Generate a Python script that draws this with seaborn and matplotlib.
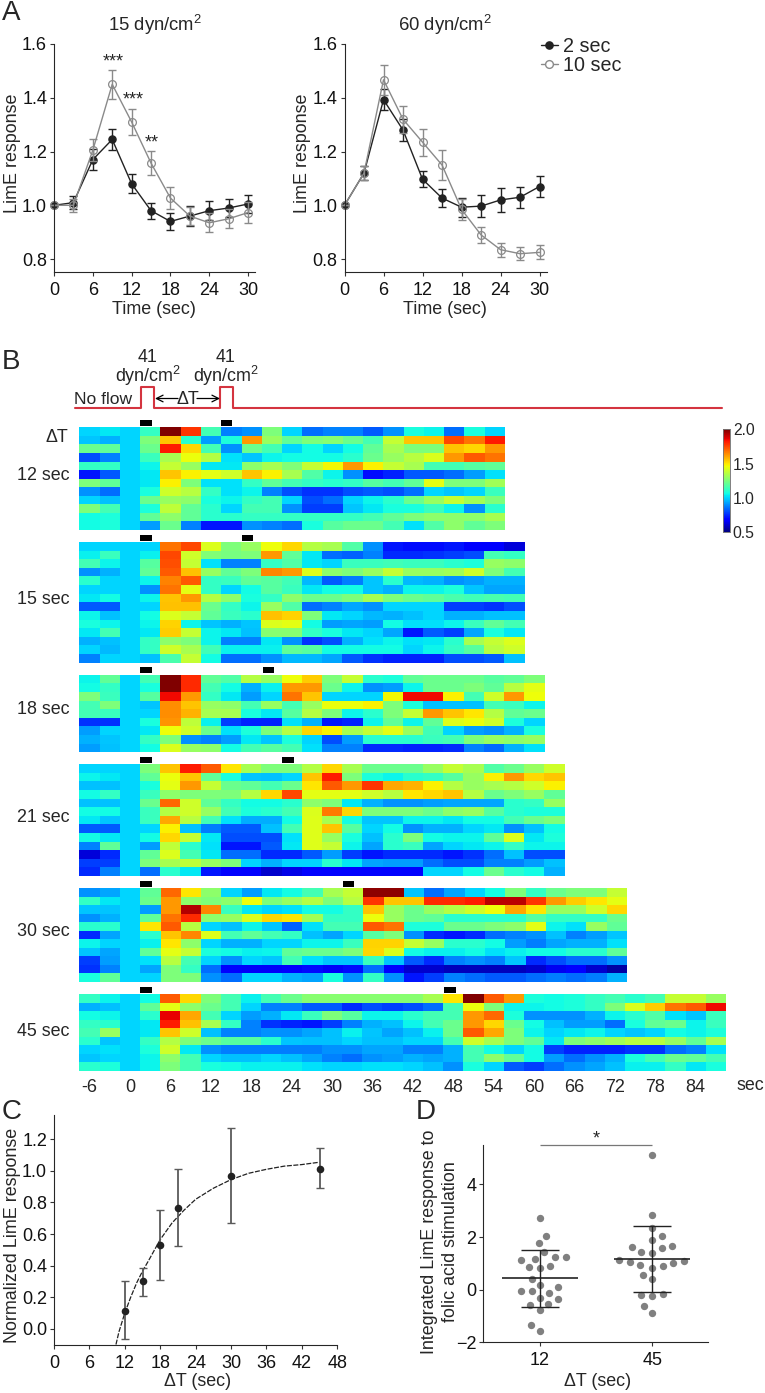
import numpy as np
import pandas as pd
import matplotlib
matplotlib.use('Agg')
import matplotlib.pyplot as plt
import seaborn as sns

W, H = 765, 1393

# Panel A
time_a = [0, 3, 6, 9, 12, 15, 18, 21, 24, 27, 30]
a15_2s = [1.0, 1.01, 1.17, 1.245, 1.08, 0.98, 0.94, 0.96, 0.98, 0.99, 1.005]
a15_2s_err = [0.0, 0.025, 0.04, 0.04, 0.035, 0.03, 0.032, 0.038, 0.035, 0.032, 0.035]
a15_10s = [1.0, 1.0, 1.205, 1.45, 1.31, 1.157, 1.027, 0.96, 0.935, 0.95, 0.973]
a15_10s_err = [0.0, 0.025, 0.04, 0.055, 0.05, 0.045, 0.04, 0.035, 0.035, 0.035, 0.04]
a60_2s = [1.0, 1.12, 1.393, 1.28, 1.097, 1.027, 0.993, 0.997, 1.02, 1.03, 1.07]
a60_2s_err = [0.0, 0.025, 0.04, 0.04, 0.03, 0.032, 0.035, 0.04, 0.043, 0.04, 0.038]
a60_10s = [1.0, 1.12, 1.467, 1.32, 1.235, 1.15, 0.985, 0.89, 0.835, 0.82, 0.825]
a60_10s_err = [0.0, 0.025, 0.055, 0.05, 0.05, 0.055, 0.04, 0.03, 0.026, 0.025, 0.026]

# Panel B, one matrix per delta T
hm_12 = [
    [1.0, 1.03, 1.0, 1.12, 2.0, 1.78, 1.15, 0.88, 0.9, 1.25, 1.0, 0.85, 0.88, 0.88, 0.82, 0.9, 1.07, 1.05, 0.85, 1.07, 1.0],
    [0.98, 0.95, 1.0, 1.25, 1.55, 1.1, 0.92, 1.08, 1.62, 1.3, 1.2, 1.25, 1.27, 1.22, 1.15, 1.38, 1.55, 1.55, 1.75, 1.68, 1.82],
    [1.22, 1.2, 1.0, 1.22, 1.82, 1.52, 1.15, 0.9, 1.22, 1.15, 1.0, 1.06, 1.0, 1.06, 1.2, 1.33, 1.25, 1.25, 1.55, 1.52, 1.62],
    [0.8, 0.88, 1.0, 1.13, 1.33, 1.45, 1.35, 1.02, 0.98, 1.05, 1.06, 1.06, 1.06, 1.1, 1.22, 1.3, 1.36, 1.42, 1.62, 1.72, 1.68],
    [1.12, 1.12, 1.0, 1.05, 1.38, 1.3, 1.03, 1.03, 1.28, 1.33, 1.26, 1.38, 1.47, 1.62, 1.48, 1.38, 1.33, 1.15, 1.15, 1.18, 1.2],
    [0.72, 0.82, 1.0, 1.03, 1.55, 1.48, 1.44, 1.4, 1.55, 1.48, 1.33, 1.17, 1.05, 0.9, 0.7, 0.74, 0.82, 0.82, 0.85, 0.92, 1.02],
    [1.25, 1.2, 1.0, 1.03, 1.48, 1.25, 1.02, 1.02, 1.12, 1.2, 1.15, 1.12, 1.1, 1.12, 1.18, 1.15, 1.2, 1.44, 1.25, 1.25, 1.32],
    [0.9, 0.85, 1.0, 1.07, 1.4, 1.36, 1.12, 1.02, 1.05, 0.88, 0.8, 0.76, 0.76, 0.8, 0.82, 0.8, 0.85, 1.0, 0.98, 1.0, 1.13],
    [1.0, 0.97, 1.0, 1.22, 1.3, 1.28, 1.07, 1.05, 1.12, 1.15, 1.0, 0.8, 0.85, 1.0, 1.05, 1.1, 1.22, 1.3, 1.38, 1.32, 1.25],
    [1.25, 1.15, 1.0, 1.08, 1.37, 1.2, 1.1, 1.0, 1.15, 1.15, 0.9, 0.78, 0.78, 0.98, 1.03, 1.07, 1.07, 1.13, 1.05, 0.9, 1.1],
    [1.06, 1.08, 1.0, 1.2, 1.28, 1.2, 1.1, 1.1, 1.12, 1.12, 1.12, 1.12, 1.12, 1.12, 1.15, 1.2, 1.25, 1.28, 1.28, 1.28, 1.33],
    [1.06, 1.08, 1.0, 0.92, 1.22, 0.88, 0.72, 0.72, 0.9, 0.88, 0.85, 1.07, 1.18, 1.22, 1.22, 1.15, 1.02, 1.17, 1.28, 1.2, 1.25],
]
hm_15 = [
    [1.0, 1.0, 1.0, 1.0, 1.68, 1.75, 1.42, 1.25, 1.3, 1.46, 1.52, 1.35, 1.33, 1.17, 0.9, 0.72, 0.7, 0.7, 0.72, 0.68, 0.68, 0.62],
    [1.04, 1.13, 1.0, 1.04, 1.75, 1.4, 1.26, 1.24, 1.25, 1.62, 1.2, 1.03, 0.85, 0.83, 0.88, 0.75, 0.75, 0.76, 0.78, 0.8, 1.15, 1.12],
    [1.15, 1.05, 1.0, 1.18, 1.74, 1.38, 1.02, 0.88, 0.88, 1.12, 1.17, 1.03, 1.0, 1.13, 1.13, 1.14, 1.13, 1.13, 1.1, 1.08, 1.3, 1.28],
    [0.9, 0.95, 1.0, 1.2, 1.72, 1.56, 1.3, 1.2, 1.25, 1.65, 1.62, 1.43, 1.28, 1.25, 1.3, 1.38, 1.3, 1.3, 1.32, 1.4, 1.25, 1.15],
    [1.1, 1.0, 1.0, 1.05, 1.66, 1.72, 1.12, 1.13, 1.2, 1.18, 1.14, 0.96, 0.82, 0.87, 0.98, 1.1, 0.96, 0.95, 0.9, 0.92, 0.95, 0.95],
    [1.0, 1.0, 1.0, 0.9, 1.68, 1.44, 1.12, 1.0, 1.06, 1.18, 1.13, 1.03, 1.06, 1.06, 0.98, 0.95, 1.05, 1.05, 1.08, 0.98, 0.93, 0.93],
    [1.03, 1.06, 1.0, 1.05, 1.55, 1.62, 1.35, 1.28, 1.07, 1.12, 1.28, 1.22, 1.22, 1.25, 1.33, 1.25, 1.22, 1.2, 1.16, 1.14, 1.16, 1.15],
    [0.82, 0.82, 1.0, 1.0, 1.56, 1.56, 1.22, 1.12, 1.05, 1.3, 1.17, 0.85, 0.88, 0.93, 0.9, 1.0, 1.0, 1.0, 0.78, 0.78, 0.76, 0.8],
    [1.05, 0.97, 1.0, 1.06, 1.42, 1.38, 1.2, 1.13, 1.1, 1.56, 1.53, 1.25, 1.03, 1.0, 0.96, 0.95, 0.97, 1.0, 0.95, 0.95, 0.97, 0.97],
    [1.07, 1.05, 1.0, 1.05, 1.53, 1.05, 0.98, 0.95, 0.98, 1.42, 1.44, 1.06, 0.92, 0.93, 0.92, 1.06, 1.02, 1.02, 1.05, 1.13, 1.2, 1.15],
    [1.03, 1.15, 1.0, 1.03, 1.54, 1.38, 1.05, 1.03, 0.97, 1.27, 1.27, 1.12, 1.07, 1.03, 1.0, 0.93, 0.72, 0.82, 0.78, 0.93, 1.07, 1.03],
    [0.95, 0.97, 1.0, 1.12, 1.28, 1.25, 1.05, 0.88, 0.88, 1.03, 0.9, 0.76, 0.8, 0.95, 1.02, 1.05, 1.02, 1.03, 1.1, 1.33, 1.38, 1.42],
    [1.0, 0.96, 1.0, 1.12, 1.4, 1.33, 1.14, 1.04, 1.04, 1.04, 1.2, 1.18, 1.06, 1.06, 1.06, 1.06, 1.0, 1.05, 1.12, 1.18, 1.36, 1.4],
    [0.88, 1.0, 1.0, 0.97, 1.16, 1.38, 1.06, 0.85, 0.85, 0.9, 0.96, 0.96, 0.93, 0.82, 0.76, 0.74, 0.74, 0.74, 0.8, 0.8, 0.82, 0.97],
]
hm_18 = [
    [1.05, 1.2, 1.0, 1.15, 2.0, 1.8, 1.2, 1.17, 1.35, 1.3, 1.46, 1.54, 1.25, 1.38, 1.1, 1.08, 1.2, 1.22, 1.22, 1.22, 1.18, 1.2, 1.25],
    [1.06, 1.12, 1.0, 1.07, 2.0, 1.8, 1.15, 1.06, 0.95, 1.04, 1.62, 1.62, 1.22, 1.05, 0.9, 0.92, 1.05, 1.22, 1.22, 1.25, 1.2, 1.36, 1.44],
    [1.25, 1.13, 1.0, 1.18, 1.85, 1.62, 1.12, 1.03, 0.92, 1.0, 1.68, 1.55, 1.0, 1.0, 1.0, 1.47, 1.85, 1.85, 1.48, 1.15, 1.4, 1.62, 1.46],
    [1.15, 1.25, 1.0, 0.98, 1.64, 1.55, 1.3, 1.28, 1.15, 1.3, 1.15, 1.3, 1.45, 1.45, 1.48, 1.25, 1.08, 0.97, 0.97, 0.97, 1.15, 1.13, 1.05],
    [1.15, 1.13, 1.0, 1.0, 1.64, 1.58, 1.33, 1.33, 1.07, 1.03, 1.18, 1.35, 1.25, 1.05, 1.1, 1.25, 1.38, 1.62, 1.55, 1.5, 1.35, 1.2, 1.22],
    [0.76, 0.76, 1.0, 1.07, 1.63, 1.37, 1.04, 0.78, 0.74, 0.74, 1.02, 0.95, 0.72, 0.74, 1.05, 1.2, 1.05, 1.2, 1.43, 1.45, 1.4, 1.08, 1.0],
    [0.92, 1.0, 1.0, 1.03, 1.46, 1.4, 1.22, 1.02, 1.08, 1.25, 1.35, 1.52, 1.48, 1.33, 1.38, 1.44, 1.3, 1.14, 1.0, 0.92, 0.9, 0.95, 1.07],
    [0.95, 0.98, 1.0, 1.12, 1.25, 0.9, 0.88, 0.92, 1.03, 0.98, 1.08, 1.0, 0.8, 0.92, 1.1, 1.1, 1.1, 1.13, 1.15, 1.25, 1.3, 1.28, 1.3],
    [0.92, 0.97, 1.0, 1.06, 1.42, 1.3, 1.28, 1.06, 1.15, 1.18, 1.15, 1.02, 0.88, 0.88, 0.75, 0.75, 0.74, 0.74, 0.75, 0.88, 0.84, 0.95, 1.02],
]
hm_21 = [
    [1.0, 1.0, 1.0, 1.25, 1.55, 1.82, 1.72, 1.5, 1.33, 1.25, 1.25, 1.35, 1.52, 1.33, 1.22, 1.22, 1.22, 1.3, 1.38, 1.33, 1.17, 1.22, 1.3, 1.4],
    [1.05, 1.03, 1.0, 1.2, 1.45, 1.55, 1.2, 1.07, 0.98, 0.97, 1.0, 1.55, 1.82, 1.25, 1.08, 1.05, 1.1, 1.12, 1.18, 1.3, 1.48, 1.62, 1.52, 1.55],
    [0.97, 0.97, 1.0, 1.07, 1.44, 1.62, 1.38, 1.22, 1.2, 1.15, 1.22, 1.5, 1.72, 1.62, 1.78, 1.6, 1.58, 1.48, 1.35, 1.3, 1.33, 1.35, 1.4, 1.48],
    [1.06, 1.12, 1.0, 1.13, 1.28, 1.25, 1.25, 1.25, 1.35, 1.52, 1.75, 1.44, 1.44, 1.44, 1.4, 1.36, 1.5, 1.52, 1.55, 1.35, 1.22, 1.25, 1.3, 1.2],
    [0.97, 0.97, 1.0, 1.22, 1.7, 1.4, 1.2, 1.12, 1.06, 1.06, 1.1, 1.28, 1.25, 1.03, 0.95, 0.9, 0.9, 0.92, 0.93, 0.93, 0.93, 1.1, 1.12, 1.3],
    [1.06, 1.06, 1.0, 1.13, 1.35, 1.4, 1.3, 1.15, 1.08, 1.1, 1.15, 1.42, 1.67, 1.52, 1.25, 1.25, 1.25, 1.22, 1.28, 1.3, 1.18, 1.1, 1.08, 1.08],
    [1.03, 0.98, 1.0, 1.13, 1.6, 1.36, 1.15, 1.02, 0.94, 0.94, 1.06, 1.43, 1.33, 1.06, 0.98, 0.98, 1.05, 1.05, 1.03, 1.06, 1.06, 1.15, 1.22, 1.25],
    [0.82, 0.82, 1.0, 1.0, 1.48, 0.97, 0.87, 0.82, 0.82, 0.97, 1.15, 1.43, 1.55, 1.18, 1.0, 1.06, 0.9, 0.95, 0.95, 1.0, 1.03, 0.9, 0.97, 1.06],
    [1.06, 1.03, 1.0, 1.06, 1.52, 1.38, 1.03, 0.8, 0.8, 0.8, 1.02, 1.43, 1.3, 1.07, 0.97, 1.1, 1.25, 1.06, 1.05, 1.05, 1.2, 1.42, 1.03, 1.08],
    [0.88, 1.2, 1.0, 0.92, 1.37, 1.1, 1.02, 0.72, 0.72, 0.82, 1.03, 1.43, 1.38, 1.05, 0.93, 1.1, 1.13, 0.93, 1.0, 1.03, 1.05, 1.12, 1.05, 1.05],
    [0.62, 0.75, 1.0, 1.2, 1.42, 1.15, 1.03, 0.85, 0.85, 0.75, 0.75, 0.82, 0.92, 0.78, 0.72, 0.75, 0.75, 0.75, 0.72, 0.76, 0.85, 0.97, 0.8, 0.8],
    [0.78, 0.78, 1.0, 1.25, 1.33, 1.37, 1.3, 1.25, 1.0, 0.95, 1.0, 1.0, 1.1, 1.03, 0.93, 0.92, 0.92, 0.85, 0.8, 0.8, 0.88, 0.88, 0.92, 0.97],
    [0.75, 0.88, 1.0, 0.85, 1.1, 1.03, 0.72, 0.68, 0.68, 0.6, 0.64, 0.68, 0.68, 0.68, 0.68, 0.68, 0.68, 1.0, 1.0, 1.06, 1.22, 1.1, 1.06, 0.95],
]
hm_30 = [
    [0.9, 0.93, 1.0, 1.2, 1.7, 1.5, 1.28, 1.0, 0.92, 1.03, 1.06, 1.15, 1.33, 1.38, 1.98, 1.98, 0.98, 0.85, 0.93, 1.0, 1.06, 1.25, 1.12, 1.22, 1.25, 1.25, 1.38],
    [1.12, 1.03, 1.0, 1.22, 1.62, 1.28, 1.25, 1.28, 1.46, 1.25, 1.3, 1.35, 1.25, 1.36, 1.78, 1.55, 1.55, 1.8, 1.8, 1.82, 1.92, 1.92, 1.78, 1.62, 1.54, 1.5, 1.44],
    [0.98, 0.98, 1.0, 0.92, 1.62, 1.93, 1.65, 1.13, 1.03, 1.0, 1.02, 1.06, 1.06, 1.12, 1.55, 1.3, 1.22, 1.3, 1.35, 1.4, 1.46, 1.6, 1.5, 1.3, 1.3, 1.4, 1.52],
    [0.9, 0.95, 1.0, 1.2, 1.68, 1.8, 1.28, 1.3, 1.42, 1.52, 1.5, 1.32, 1.12, 1.12, 1.45, 1.3, 1.22, 1.2, 1.1, 1.1, 1.1, 1.1, 1.18, 1.12, 1.12, 1.12, 1.22],
    [1.1, 1.1, 1.0, 1.5, 1.72, 1.36, 1.0, 0.97, 1.05, 0.98, 0.83, 1.02, 1.15, 1.15, 1.72, 1.68, 1.08, 1.08, 1.22, 1.22, 1.25, 1.28, 1.44, 1.05, 1.02, 1.3, 1.2],
    [0.75, 0.93, 1.0, 1.1, 1.55, 1.65, 1.42, 1.15, 1.2, 1.15, 1.12, 0.97, 0.93, 1.0, 1.18, 1.25, 0.9, 0.75, 0.72, 0.75, 0.85, 0.88, 0.9, 0.97, 0.88, 0.92, 0.98],
    [1.05, 1.0, 1.0, 1.04, 1.5, 1.28, 1.0, 0.95, 0.95, 1.0, 1.0, 1.05, 1.05, 1.13, 1.53, 1.53, 1.38, 1.3, 1.1, 1.1, 1.06, 0.92, 0.87, 0.93, 0.95, 0.95, 1.02],
    [0.98, 0.93, 1.0, 1.2, 1.44, 1.38, 1.08, 1.06, 1.04, 1.05, 1.2, 1.22, 1.22, 1.25, 1.52, 1.42, 1.06, 1.04, 1.04, 1.06, 1.02, 1.04, 1.06, 1.06, 1.1, 1.1, 1.2],
    [0.78, 0.92, 1.0, 1.02, 1.36, 1.15, 1.0, 0.9, 1.0, 0.98, 1.15, 1.02, 0.98, 0.98, 1.13, 0.98, 0.82, 0.75, 0.88, 0.9, 0.88, 0.98, 0.75, 0.8, 0.85, 0.85, 0.9],
    [0.76, 0.88, 1.0, 0.93, 1.25, 1.12, 0.85, 0.68, 0.66, 0.66, 0.68, 0.7, 0.66, 0.7, 0.85, 0.68, 0.6, 0.6, 0.58, 0.58, 0.58, 0.58, 0.6, 0.65, 0.68, 0.6, 0.55],
    [1.07, 1.2, 1.0, 1.0, 1.25, 1.25, 0.9, 0.85, 1.0, 1.0, 0.95, 0.93, 1.07, 0.9, 1.12, 0.9, 0.72, 0.78, 0.88, 0.85, 0.82, 0.82, 0.85, 0.87, 0.85, 0.87, 0.95],
]
hm_45 = [
    [1.12, 1.05, 1.0, 1.06, 1.72, 1.52, 1.25, 1.15, 1.04, 1.15, 1.22, 1.27, 1.27, 1.27, 1.27, 1.27, 1.27, 1.33, 1.5, 2.0, 1.72, 1.62, 1.08, 1.06, 1.08, 1.12, 1.15, 1.1, 1.15, 1.38, 1.38, 1.3],
    [0.95, 0.97, 1.0, 1.2, 1.44, 1.28, 1.22, 1.15, 1.0, 0.88, 0.88, 0.82, 0.82, 0.75, 0.8, 0.78, 0.8, 0.85, 1.15, 1.45, 1.25, 1.05, 1.05, 1.06, 1.08, 1.12, 1.25, 1.42, 1.54, 1.68, 1.72, 1.85],
    [1.06, 1.05, 1.0, 1.1, 1.86, 1.6, 1.15, 1.0, 0.92, 0.95, 1.03, 1.13, 1.25, 1.18, 1.05, 1.05, 1.1, 1.15, 1.15, 1.62, 1.7, 1.08, 0.9, 0.9, 0.9, 0.95, 1.05, 1.1, 1.17, 1.02, 0.98, 1.13],
    [1.12, 1.1, 1.0, 1.03, 1.82, 1.56, 1.33, 1.12, 0.88, 0.76, 0.74, 0.72, 0.78, 0.88, 0.95, 0.97, 1.05, 1.15, 1.22, 1.62, 1.52, 1.22, 1.06, 0.97, 0.92, 0.92, 0.85, 1.07, 1.2, 1.22, 1.05, 1.13],
    [1.15, 1.3, 1.0, 1.03, 1.55, 1.4, 0.97, 0.88, 0.88, 0.9, 0.9, 0.93, 0.97, 1.04, 0.98, 0.93, 0.97, 1.04, 1.22, 1.72, 1.6, 1.25, 1.05, 1.0, 1.03, 1.05, 1.0, 0.98, 1.0, 1.06, 1.05, 1.08],
    [1.1, 0.98, 1.0, 1.12, 1.35, 1.25, 1.22, 1.18, 1.18, 1.1, 0.98, 0.97, 0.97, 1.0, 0.97, 0.97, 1.0, 1.0, 1.15, 1.4, 1.33, 1.25, 1.2, 1.03, 1.25, 1.28, 1.32, 1.36, 1.36, 1.3, 1.2, 1.33],
    [1.0, 1.02, 1.0, 1.08, 1.4, 1.03, 0.9, 0.87, 0.87, 0.87, 0.87, 0.87, 0.9, 0.9, 0.93, 0.93, 0.88, 0.88, 0.95, 1.15, 1.06, 1.0, 1.06, 0.78, 0.74, 0.74, 0.74, 0.76, 0.76, 0.85, 0.88, 1.02],
    [0.98, 1.0, 1.0, 1.05, 1.28, 1.15, 1.0, 0.97, 0.97, 1.0, 0.97, 0.93, 0.88, 0.85, 0.9, 0.92, 0.95, 0.93, 0.95, 1.15, 1.28, 1.2, 1.06, 0.92, 0.85, 0.9, 0.95, 1.07, 1.15, 1.22, 1.2, 1.15],
    [1.1, 1.08, 1.0, 1.05, 1.25, 1.15, 1.07, 1.06, 1.04, 1.04, 1.04, 1.02, 1.0, 1.0, 1.02, 1.02, 1.0, 0.97, 0.9, 1.07, 1.0, 0.82, 0.78, 0.85, 0.9, 0.93, 0.97, 1.04, 1.04, 1.12, 1.03, 1.07],
]
hm_names = ['12 sec', '15 sec', '18 sec', '21 sec', '30 sec', '45 sec']
hm_ticks = [-6, 0, 6, 12, 18, 24, 30, 36, 42, 48, 54, 60, 66, 72, 78, 84]

# Panel C
dt_c = [12, 15, 18, 21, 30, 45]
norm_c = [0.115, 0.30, 0.53, 0.765, 0.97, 1.015]
low_c = [-0.065, 0.21, 0.31, 0.525, 0.67, 0.89]
high_c = [0.30, 0.385, 0.75, 1.01, 1.27, 1.145]
fit_x = [10.5, 11, 12, 13, 14, 15, 16, 18, 20, 22, 24, 27, 30, 33, 36, 39, 42, 45]
fit_y = [-0.1, -0.02, 0.1, 0.2, 0.29, 0.365, 0.43, 0.565, 0.67, 0.75, 0.82, 0.89, 0.945, 0.985, 1.01, 1.03, 1.04, 1.055]

# Panel D
d_12 = [2.73, 2.05, 1.76, 1.42, 1.25, 1.25, 1.18, 1.13, 0.91, 0.82, 0.86, 0.42,
        0.16, 0.09, -0.06, -0.06, -0.14, -0.37, -0.32, -0.58, -0.53, -0.76, -1.35, -1.58]
d_45 = [5.13, 2.84, 2.33, 2.05, 1.89, 1.67, 1.59, 1.62, 1.41, 1.42, 1.08, 1.03,
        1.13, 1.06, 0.91, 0.94, 0.82, 0.56, 0.39, -0.2, -0.23, -0.16, -0.63, -0.87]
d_mean = [0.43, 1.16]
d_low = [-0.65, -0.09]
d_high = [1.51, 2.42]

sns.set_theme(style='ticks')
plt.rcParams['font.family'] = ['Liberation Sans', 'DejaVu Sans']
plt.rcParams['mathtext.default'] = 'regular'
plt.rcParams['axes.linewidth'] = 0.8
plt.rcParams['xtick.major.width'] = 0.8
plt.rcParams['ytick.major.width'] = 0.8
plt.rcParams['xtick.major.size'] = 3
plt.rcParams['ytick.major.size'] = 3
plt.rcParams['xtick.major.pad'] = 4
plt.rcParams['ytick.major.pad'] = 2

FS = 12.9
TICK_FS = 13
DARK = '#222222'
GREY = '#8a8a8a'
RED = '#d4343f'

fig = plt.figure(figsize=(W / 100, H / 100), dpi=100)
# overlay in pixel coordinates for the labels and the flow schematic
ov = fig.add_axes([0, 0, 1, 1], zorder=10)
ov.set_xlim(0, W)
ov.set_ylim(H, 0)
ov.axis('off')


def ax_px(left, top, right, bottom):
    return fig.add_axes([left / W, 1 - bottom / H, (right - left) / W, (bottom - top) / H])


def set_labels(ax, xlabel, ylabel, xpos, ypos):
    ax.set_xlabel(xlabel, fontsize=FS, va='center')
    ax.set_ylabel(ylabel, fontsize=FS, va='center', linespacing=1.35)
    ax.xaxis.set_label_coords(xpos[0], xpos[1], transform=ov.transData)
    ax.yaxis.set_label_coords(ypos[0], ypos[1], transform=ov.transData)
    ax.tick_params(labelsize=TICK_FS, color='#333333', colors='#111111')
    sns.despine(ax=ax)


def draw_response(ax, values, errors, color, filled):
    df = pd.DataFrame({'time': time_a, 'value': values})
    ax.errorbar(time_a, values, yerr=errors, fmt='none', ecolor=color, elinewidth=1,
                capsize=3.2, capthick=1, clip_on=False)
    sns.lineplot(data=df, x='time', y='value', ax=ax, color=color, lw=1, marker='o',
                 markersize=5.2 if filled else 5.6, markerfacecolor=color if filled else 'none',
                 markeredgecolor=color, markeredgewidth=0.9, errorbar=None, clip_on=False)


# --- Panel A ---
ax_a1 = ax_px(54, 44, 255, 272)
ax_a2 = ax_px(344.5, 44, 546.5, 272)
for ax, s2, e2, s10, e10 in [(ax_a1, a15_2s, a15_2s_err, a15_10s, a15_10s_err),
                             (ax_a2, a60_2s, a60_2s_err, a60_10s, a60_10s_err)]:
    draw_response(ax, s2, e2, DARK, True)
    draw_response(ax, s10, e10, GREY, False)
    ax.set_xlim(0, 31.07)
    ax.set_ylim(0.752, 1.6)
    ax.set_xticks(time_a[::2])
    ax.set_yticks([0.8, 1.0, 1.2, 1.4, 1.6])
    ax.set_yticklabels(['0.8', '1.0', '1.2', '1.4', '1.6'])
set_labels(ax_a1, 'Time (sec)', 'LimE response', (154, 309), (13, 153))
set_labels(ax_a2, 'Time (sec)', 'LimE response', (445, 309), (303, 153))

ov.text(155, 25, '15 dyn/cm$^{2}$', fontsize=13.3, ha='center', va='center')
ov.text(445, 25, '60 dyn/cm$^{2}$', fontsize=13.3, ha='center', va='center')
for x, y, stars in [(113, 62, '***'), (133, 100, '***'), (152, 143, '**')]:
    ov.text(x, y, stars, fontsize=FS, ha='center', va='center')

handles = [
    plt.Line2D([], [], color=DARK, lw=1, marker='o', ms=5.2, mfc=DARK, mec=DARK, label='2 sec'),
    plt.Line2D([], [], color=GREY, lw=1, marker='o', ms=5.6, mfc='white', mec=GREY, label='10 sec'),
]
ov.legend(handles=handles, loc='upper left', bbox_to_anchor=(541, 37), bbox_transform=ov.transData,
          frameon=False, fontsize=14.2, handlelength=0.85, handletextpad=0.25,
          labelspacing=0.02, borderpad=0, borderaxespad=0)

# --- Panel B ---
hm_data = [hm_12, hm_15, hm_18, hm_21, hm_30, hm_45]
hm_boxes = [(79.4, 427.3, 505, 530), (79.4, 542, 524.5, 662.7), (79.4, 674.7, 544.5, 752.3),
            (79.4, 764.3, 564.5, 876), (79.4, 888, 627, 981.7), (79.4, 994, 726, 1071)]
hm_name_y = [476, 599, 709, 817, 932, 1032]
bar_y = [420, 535, 667, 757, 881, 987]
bar2_x = [220.7, 241.7, 262.7, 282.5, 343, 444.5]
cax = ax_px(722.7, 429.3, 730, 532)

for i, mat in enumerate(hm_data):
    box = hm_boxes[i]
    ax = ax_px(*box)
    sns.heatmap(np.array(mat), ax=ax, cmap='jet', vmin=0.5, vmax=2.0, cbar=(i == 0),
                cbar_ax=cax if i == 0 else None, xticklabels=False, yticklabels=False)
    ov.text(43, hm_name_y[i], hm_names[i], fontsize=FS, ha='center', va='center')
    ov.add_patch(plt.Rectangle((140.5, bar_y[i]), 11.5, 6, color='black', lw=0))
    ov.add_patch(plt.Rectangle((bar2_x[i], bar_y[i]), 11.5, 6, color='black', lw=0))
    if i == 5:
        ax.set_xticks(np.arange(len(hm_ticks)) * 2 + 0.5)
        ax.set_xticklabels(hm_ticks, rotation=0, fontsize=TICK_FS)
        ax.tick_params(axis='x', length=0, pad=6)

cax.set_yticks([0.5, 1.0, 1.5, 2.0])
cax.set_yticklabels(['0.5', '1.0', '1.5', '2.0'], fontsize=11.3)
cax.tick_params(length=0, pad=2)
for sp in cax.spines.values():
    sp.set_visible(True)
    sp.set_linewidth(0.5)
    sp.set_color('#777777')

ov.text(737, 1085, 'sec', fontsize=FS, ha='left', va='center')
ov.text(57, 437, '\u0394T', fontsize=FS, ha='center', va='center')

# flow schematic
ov.plot([75, 141, 141, 154, 154, 220, 220, 232.7, 232.7, 721.7],
        [408, 408, 386.7, 386.7, 408, 408, 386.7, 386.7, 408, 408], color=RED, lw=1.5)
ov.text(103.5, 400, 'No flow', fontsize=12.6, ha='center', va='center')
for x in [148, 226]:
    ov.text(x, 358, '41', fontsize=FS, ha='center', va='center')
    ov.text(x, 376, 'dyn/cm$^{2}$', fontsize=FS, ha='center', va='center')
ov.text(187.5, 399, '\u0394T', fontsize=FS, ha='center', va='center')
ov.annotate('', xy=(155, 398.5), xytext=(178, 398.5), arrowprops=dict(arrowstyle='->', lw=0.9, color='black', shrinkA=0, shrinkB=0))
ov.annotate('', xy=(220, 398.5), xytext=(197, 398.5), arrowprops=dict(arrowstyle='->', lw=0.9, color='black', shrinkA=0, shrinkB=0))

# --- Panel C ---
ax_c = ax_px(54, 1115, 337.3, 1345)
c_df = pd.DataFrame({'dt': dt_c, 'norm': norm_c})
fit_df = pd.DataFrame({'dt': fit_x, 'fit': fit_y})
sns.lineplot(data=fit_df, x='dt', y='fit', ax=ax_c, color=DARK, lw=0.9, linestyle=(0, (4, 1.2)), errorbar=None)
ax_c.errorbar(dt_c, norm_c, yerr=[np.array(norm_c) - np.array(low_c), np.array(high_c) - np.array(norm_c)],
              fmt='none', ecolor='#5a5a5a', elinewidth=1.3, capsize=3, capthick=1)
sns.scatterplot(data=c_df, x='dt', y='norm', ax=ax_c, color=DARK, s=30, linewidth=0, zorder=5)
ax_c.set_xlim(0, 48)
ax_c.set_ylim(-0.103, 1.354)
ax_c.set_xticks(np.arange(0, 49, 6))
ax_c.set_yticks([0.0, 0.2, 0.4, 0.6, 0.8, 1.0, 1.2])
ax_c.set_yticklabels(['0.0', '0.2', '0.4', '0.6', '0.8', '1.0', '1.2'])
set_labels(ax_c, '\u0394T (sec)', 'Normalized LimE response', (198, 1382), (13, 1235))

# --- Panel D ---
ax_d = ax_px(483.3, 1145, 708, 1342.3)
d_df = pd.DataFrame({'dt': ['12'] * len(d_12) + ['45'] * len(d_45), 'value': d_12 + d_45})
sns.swarmplot(data=d_df, x='dt', y='value', order=['12', '45'], ax=ax_d, color='#808080', size=7.4, linewidth=0)
ax_d.hlines(d_mean, [-0.337, 0.663], [0.337, 1.337], color=DARK, lw=1.2, zorder=6)
ax_d.vlines([0, 1], d_low, d_high, color=DARK, lw=1, zorder=6)
ax_d.hlines(d_low, [-0.169, 0.831], [0.169, 1.169], color=DARK, lw=1, zorder=6)
ax_d.hlines(d_high, [-0.169, 0.831], [0.169, 1.169], color=DARK, lw=1, zorder=6)
ax_d.hlines([5.5], [0], [1], color='#777777', lw=0.9, clip_on=False)
ax_d.text(0.5, 5.72, '*', fontsize=FS, ha='center', va='center')
ax_d.set_xlim(-0.5, 1.495)
ax_d.set_ylim(-2, 5.5)
ax_d.set_yticks([-2, 0, 2, 4])
set_labels(ax_d, '\u0394T (sec)', 'Integrated LimE response to\nfolic acid stimulation', (598, 1382), (440, 1242))

# panel letters
for letter, x, y in [('A', 11, 13), ('B', 11, 362), ('C', 12, 1112), ('D', 426, 1112)]:
    ov.text(x, y, letter, fontsize=20, ha='center', va='center')

# swarm positions are worked out at draw time with the big spacing, then keep them
# and shrink the dots to their real size
fig.canvas.draw()
for coll in ax_d.collections[:2]:
    del coll.draw
    coll.set_sizes([28])

fig.savefig('out.png', dpi=100)
